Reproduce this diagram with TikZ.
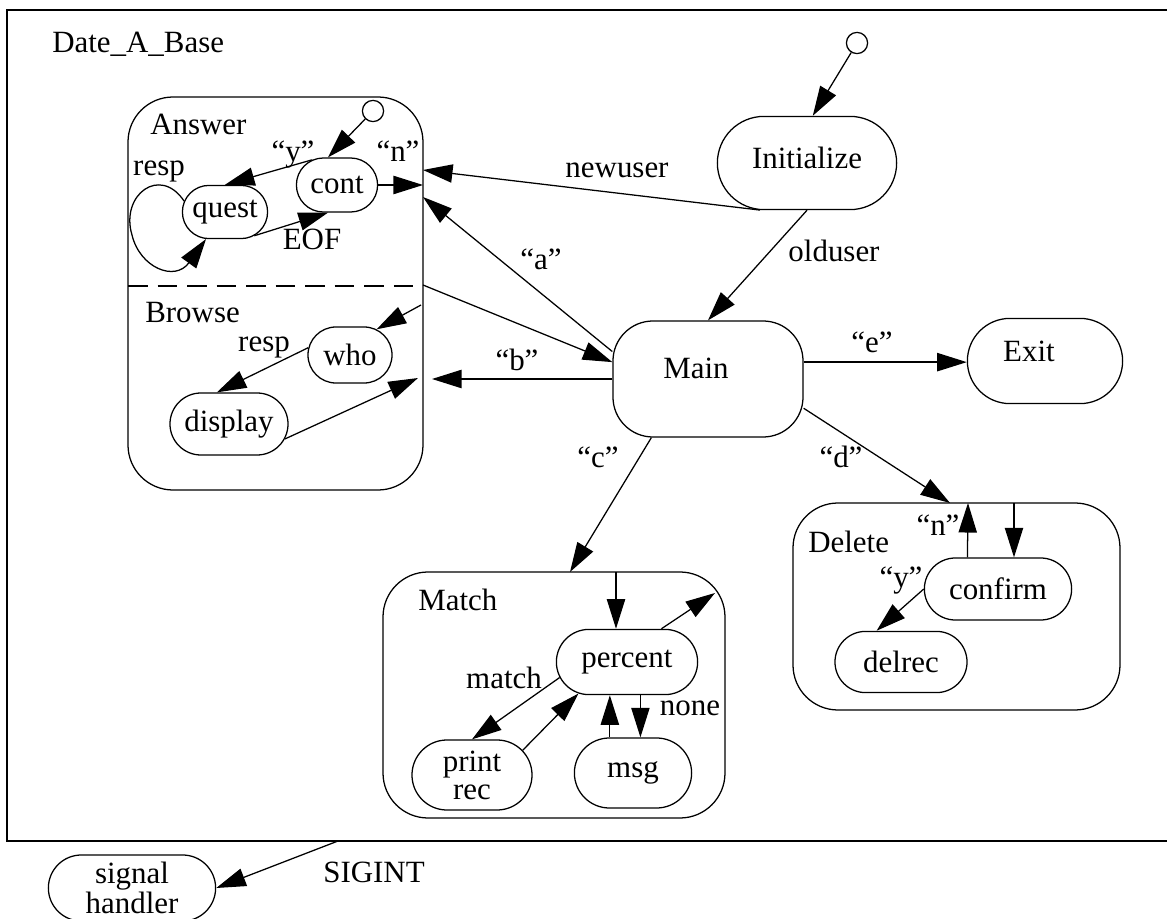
\documentclass[tikz,border=0pt]{standalone}
\usepackage{fontspec}
\setmainfont{Liberation Serif}
\usetikzlibrary{arrows.meta,shapes.misc}

\tikzset{
  st/.style={draw, rounded rectangle, inner sep=0pt, line width=0.9pt, align=center},
  tr/.style={-{Triangle[length=21pt,width=13pt]}, line width=0.9pt},
  lbl/.style={inner sep=0pt, anchor=base},
  superst/.style={draw, line width=0.9pt, rounded corners=1.125cm},
  initdot/.style={draw, circle, minimum size=0.53cm, inner sep=0pt, line width=0.9pt},
}

\begin{document}
\begin{tikzpicture}[x=0.025cm, y=-0.025cm, font=\fontsize{22}{24}\selectfont]
    \useasboundingbox (0,0) rectangle (1167,919);
    \draw[line width=1.2pt] (7,10) rectangle (1185,841);
    \node[lbl, anchor=base west] (dab) at (52,53) {Date\_A\_Base};

    % superstates
    \draw[superst] (128,97) rectangle (423,490);
    \draw[line width=0.9pt, dash pattern=on 14pt off 7pt] (128,286) -- (423,286);
    \draw[superst] (383,572) rectangle (725,818);
    \draw[superst] (793,503) rectangle (1120,710);
    \node[lbl, anchor=base west] (ansl) at (150,135) {Answer};
    \node[lbl, anchor=base west] (brl) at (145,323) {Browse};
    \node[lbl, anchor=base west] (matl) at (418,610) {Match};
    \node[lbl, anchor=base west] (dell) at (808,552) {Delete};

    % top level states
    \node[initdot] (topdot) at (857,43) {};
    \node[st, minimum width=4.48cm, minimum height=2.33cm,
          label={[inner sep=0pt, shift={(0,-5)}]center:Initialize}] (init) at (807,163) {};
    \node[draw, line width=0.9pt, rounded corners=1cm, minimum width=4.75cm, minimum height=2.9cm,
          label={[inner sep=0pt, shift={(-12,-11)}]center:Main}] (main) at (708,379) {};
    \node[st, minimum width=3.88cm, minimum height=2.13cm,
          label={[inner sep=0pt, shift={(-16,-10)}]center:Exit}] (exit) at (1045,361) {};
    \node[st, minimum width=4.18cm, minimum height=1.65cm, font=\fontsize{22}{18}\selectfont] (sig) at (132,888) {signal\\handler};

    % Answer / Browse
    \node[initdot] (ansdot) at (373,111) {};
    \node[st, minimum width=2.03cm, minimum height=1.35cm] (cont) at (337,185) {cont};
    \node[st, minimum width=2.13cm, minimum height=1.33cm] (quest) at (225,212) {quest};
    \node[st, minimum width=2.1cm, minimum height=1.4cm] (who) at (350,355) {who};
    \node[st, minimum width=2.95cm, minimum height=1.55cm] (display) at (229,424) {display};

    % Match
    \node[st, minimum width=3.53cm, minimum height=1.63cm] (percent) at (627,662) {percent};
    \node[st, minimum width=3cm, minimum height=1.75cm, font=\fontsize{22}{20}\selectfont] (printrec) at (472,775) {print\\rec};
    \node[st, minimum width=2.93cm, minimum height=1.75cm] (msg) at (633,773) {msg};

    % Delete
    \node[st, minimum width=3.68cm, minimum height=1.55cm] (confirm) at (998,589) {confirm};
    \node[st, minimum width=3.3cm, minimum height=1.53cm] (delrec) at (901,662) {delrec};

    % points on superstate borders
    \coordinate (ans-new) at (423,170);
    \coordinate (ans-n) at (423,185);
    \coordinate (ans-a) at (423,197);
    \coordinate (ans-out) at (423,285);
    \coordinate (br-in) at (421,305);
    \coordinate (br-b) at (432,379);
    \coordinate (br-disp) at (418,378);
    \coordinate (m-in) at (570,572);
    \coordinate (m-top) at (616,572);
    \coordinate (m-out) at (715,593);
    \coordinate (d-in) at (950,503);
    \coordinate (d-top) at (1014,503);
    \coordinate (d-out) at (968,503);
    \coordinate (sig-src) at (338,841);

    % transitions
    \draw[tr] (topdot) -- (init.83);
    \draw[tr] (init.225) -- (ans-new);
    \draw[tr] (init.south) -- (main.north);
    \draw[tr] (main.164) -- (ans-a);
    \draw[tr] (ans-out) -- (main.170);
    \draw[tr] (main.west) -- (br-b);
    \draw[tr] (main.10) -- (main.10 -| exit.west);
    \draw[tr] (main.-17) -- (d-in);
    \draw[tr] (main.-134) -- (m-in);
    \draw[tr] (sig-src) -- (sig.east);

    \draw[tr] (ansdot) -- (cont.108);
    \draw[tr] (cont.135) -- (quest.north);
    \draw[tr] (quest.-39) -- (cont.-108);
    \draw[tr] (cont.east) -- (ans-n);
    \draw[tr] (quest.165) .. controls (160,165) and (120,195) .. (132,235)
                          .. controls (140,268) and (175,282) .. (quest.-125);

    \draw[tr] (br-in) -- (who.44);
    \draw[tr] (who.170) -- (display.111);
    \draw[tr] (display.-15) -- (br-disp);

    \draw[tr] (m-top) -- (m-top |- percent.north);
    \draw[tr] (percent.44) -- (m-out);
    \draw[tr] (percent.-167) -- (printrec.north);
    \draw[tr] (printrec.26) -- (percent.-147);
    \draw[tr] (msg.123) -- (msg.123 |- percent.south);
    \draw[tr] (percent.-68) -- (percent.-68 |- msg.north);

    \draw[tr] (d-top) -- (d-top |- confirm.north);
    \draw[tr] (confirm.134) -- (d-out);
    \draw[tr] (confirm.west) -- (delrec.128);

    % transition labels
    \node[lbl] (l-y1) at (293,162) {“y”};
    \node[lbl] (l-n1) at (398,162) {“n”};
    \node[lbl] (l-eof) at (312,250) {EOF};
    \node[lbl] (l-resp1) at (159,176) {resp};
    \node[lbl] (l-new) at (617,178) {newuser};
    \node[lbl] (l-a) at (541,270) {“a”};
    \node[lbl] (l-old) at (834,262) {olduser};
    \node[lbl] (l-b) at (517,370) {“b”};
    \node[lbl] (l-e) at (872,353) {“e”};
    \node[lbl] (l-d) at (841,467) {“d”};
    \node[lbl] (l-c) at (598,467) {“c”};
    \node[lbl] (l-resp2) at (264,352) {resp};
    \node[lbl] (l-match) at (504,688) {match};
    \node[lbl] (l-none) at (690,715) {none};
    \node[lbl] (l-n2) at (938,535) {“n”};
    \node[lbl] (l-y2) at (901,587) {“y”};
    \node[lbl] (l-sig) at (374,882) {SIGINT};
\end{tikzpicture}
\end{document}
